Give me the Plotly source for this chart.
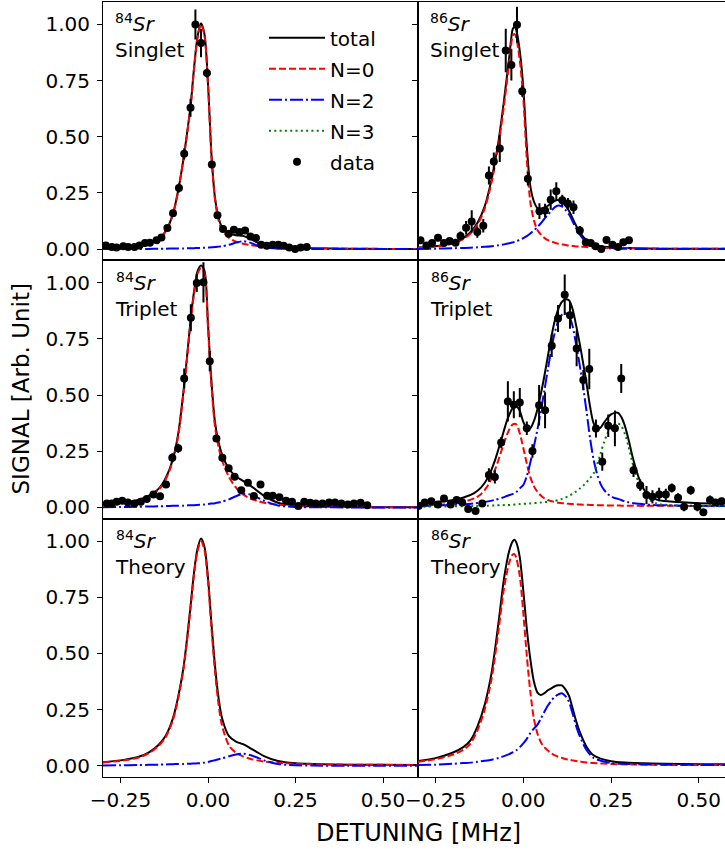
import plotly.graph_objects as go

# ---------------- data ----------------
# model curves, left column panels (84Sr)
GRID_L = [-0.30, -0.25, -0.20, -0.17, -0.14, -0.12, -0.10, -0.085, -0.07, -0.06, -0.05, -0.04, -0.03, -0.02, -0.01,
          0.0, 0.01, 0.02, 0.03, 0.04, 0.06, 0.08, 0.10, 0.12, 0.14, 0.16, 0.20, 0.25, 0.30, 0.40, 0.50, 0.60]
# model curves, right column panels (86Sr singlet / theory)
GRID_R = [-0.30, -0.25, -0.20, -0.17, -0.15, -0.13, -0.11, -0.09, -0.07, -0.055, -0.04, -0.03, -0.025, -0.02, -0.01,
          0.0, 0.01, 0.02, 0.03, 0.04, 0.05, 0.06, 0.07, 0.08, 0.09, 0.10, 0.11, 0.12, 0.13, 0.14, 0.15, 0.16,
          0.18, 0.20, 0.25, 0.30, 0.40, 0.50, 0.60]
# model curves, 86Sr triplet
GRID_D = [-0.30, -0.25, -0.20, -0.17, -0.14, -0.12, -0.10, -0.08, -0.06, -0.045, -0.03, -0.02, -0.01, 0.0, 0.01,
          0.02, 0.03, 0.04, 0.05, 0.06, 0.07, 0.08, 0.09, 0.10, 0.11, 0.12, 0.13, 0.14, 0.15, 0.16, 0.17, 0.18,
          0.19, 0.20, 0.21, 0.22, 0.23, 0.24, 0.25, 0.26, 0.27, 0.28, 0.29, 0.30, 0.31, 0.32, 0.33, 0.35, 0.38,
          0.42, 0.50, 0.60]

# 84Sr Singlet
sr84s_total = [0.006, 0.009, 0.017, 0.027, 0.047, 0.082, 0.158, 0.263, 0.403, 0.514, 0.634, 0.804, 0.945, 1.005, 0.956,
               0.737, 0.418, 0.229, 0.141, 0.098, 0.069, 0.062, 0.059, 0.047, 0.030, 0.018, 0.010, 0.006, 0.004, 0.002, 0.001, 0.001]
sr84s_n0 = [0.006, 0.009, 0.016, 0.026, 0.045, 0.08, 0.155, 0.26, 0.40, 0.51, 0.63, 0.80, 0.94, 1.00, 0.95,
            0.73, 0.41, 0.22, 0.13, 0.085, 0.05, 0.033, 0.024, 0.018, 0.014, 0.011, 0.008, 0.005, 0.004, 0.002, 0.001, 0.001]
sr84s_n2 = [0, 0, 0.001, 0.001, 0.002, 0.002, 0.003, 0.003, 0.003, 0.004, 0.004, 0.004, 0.005, 0.005, 0.006,
            0.007, 0.008, 0.009, 0.011, 0.013, 0.019, 0.029, 0.035, 0.029, 0.016, 0.007, 0.002, 0.001, 0, 0, 0, 0]
sr84s_x = [-0.292, -0.275, -0.261, -0.242, -0.228, -0.210, -0.196, -0.180, -0.166, -0.147,
           -0.133, -0.116, -0.100, -0.083, -0.068, -0.050, -0.036, -0.020, -0.003, 0.011,
           0.027, 0.043, 0.059, 0.074, 0.090, 0.106, 0.121, 0.137, 0.152, 0.168,
           0.185, 0.201, 0.216, 0.232, 0.249, 0.265, 0.282]
sr84s_y = [0.016, 0.009, 0.007, 0.013, 0.009, 0.009, 0.016, 0.027, 0.028, 0.039,
           0.052, 0.094, 0.160, 0.272, 0.424, 0.629, 1.000, 0.917, 0.784, 0.377,
           0.151, 0.089, 0.068, 0.086, 0.076, 0.083, 0.056, 0.049, 0.019, 0.015,
           0.019, 0.019, 0.015, 0.007, 0.000, 0.007, 0.009]
sr84s_err = [0.008, 0.006, 0.006, 0.006, 0.006, 0.006, 0.006, 0.008, 0.008, 0.01,
             0.01, 0.012, 0.015, 0.02, 0.025, 0.04, 0.067, 0.063, 0.02, 0.015,
             0.012, 0.012, 0.01, 0.012, 0.01, 0.012, 0.01, 0.01, 0.008, 0.008,
             0.008, 0.008, 0.008, 0.006, 0.006, 0.006, 0.006]

# 86Sr Singlet
sr86s_total = [0.007, 0.013, 0.029, 0.05, 0.076, 0.118, 0.19, 0.313, 0.487, 0.661, 0.856, 0.98, 0.99, 0.975, 0.881,
               0.719, 0.458, 0.28, 0.213, 0.183, 0.18, 0.185, 0.193, 0.204, 0.215, 0.218, 0.211, 0.193, 0.171, 0.139,
               0.106, 0.077, 0.039, 0.019, 0.008, 0.005, 0.002, 0.002, 0.001]
sr86s_n0 = [0.006, 0.011, 0.025, 0.045, 0.07, 0.11, 0.18, 0.30, 0.47, 0.64, 0.83, 0.95, 0.958, 0.94, 0.84,
            0.67, 0.40, 0.21, 0.13, 0.085, 0.065, 0.05, 0.04, 0.034, 0.028, 0.024, 0.021, 0.018, 0.016, 0.014,
            0.012, 0.011, 0.009, 0.007, 0.005, 0.004, 0.002, 0.002, 0.001]
sr86s_n2 = [0.001, 0.002, 0.004, 0.005, 0.006, 0.008, 0.01, 0.013, 0.017, 0.021, 0.026, 0.03, 0.032, 0.035, 0.041,
            0.049, 0.058, 0.07, 0.083, 0.098, 0.115, 0.135, 0.153, 0.17, 0.187, 0.194, 0.19, 0.175, 0.155, 0.125,
            0.094, 0.066, 0.03, 0.012, 0.003, 0.001, 0, 0, 0]
sr86s_x = [-0.293, -0.276, -0.260, -0.243, -0.226, -0.210, -0.193, -0.179, -0.163, -0.147,
           -0.131, -0.114, -0.098, -0.084, -0.067, -0.050, -0.034, -0.018, -0.003, 0.013,
           0.046, 0.062, 0.078, 0.094, 0.111, 0.127, 0.143, 0.161, 0.178, 0.192,
           0.206, 0.222, 0.237, 0.254, 0.270, 0.285, 0.301]
sr86s_y = [0.039, 0.016, 0.027, 0.050, 0.027, 0.036, 0.028, 0.058, 0.095, 0.123,
           0.076, 0.104, 0.328, 0.390, 0.448, 0.884, 0.820, 0.999, 0.703, 0.313,
           0.169, 0.172, 0.220, 0.258, 0.217, 0.203, 0.186, 0.083, 0.031, 0.027,
           0.013, 0.001, 0.041, 0.019, 0.009, 0.030, 0.039]
sr86s_err = [0.015, 0.012, 0.012, 0.015, 0.012, 0.012, 0.012, 0.02, 0.03, 0.05,
             0.025, 0.03, 0.04, 0.04, 0.06, 0.097, 0.07, 0.08, 0.025, 0.03,
             0.035, 0.03, 0.045, 0.04, 0.025, 0.025, 0.03, 0.02, 0.015, 0.015,
             0.012, 0.012, 0.015, 0.012, 0.012, 0.015, 0.015]

# 84Sr Triplet
sr84t_total = [0.013, 0.02, 0.033, 0.052, 0.085, 0.134, 0.217, 0.328, 0.518, 0.669, 0.83, 0.96, 1.051, 1.077, 1.053,
               0.815, 0.557, 0.379, 0.292, 0.236, 0.171, 0.138, 0.118, 0.098, 0.075, 0.051, 0.021, 0.009, 0.005, 0.002, 0.001, 0.001]
sr84t_n0 = [0.012, 0.018, 0.03, 0.048, 0.08, 0.128, 0.21, 0.32, 0.51, 0.66, 0.82, 0.95, 1.04, 1.065, 1.04,
            0.80, 0.54, 0.36, 0.27, 0.21, 0.135, 0.088, 0.058, 0.04, 0.03, 0.021, 0.012, 0.007, 0.004, 0.002, 0.001, 0.001]
sr84t_n2 = [0.001, 0.002, 0.003, 0.004, 0.005, 0.006, 0.007, 0.008, 0.008, 0.009, 0.01, 0.01, 0.011, 0.012, 0.013,
            0.015, 0.017, 0.019, 0.022, 0.026, 0.036, 0.05, 0.06, 0.058, 0.045, 0.03, 0.009, 0.002, 0.001, 0, 0, 0]
sr84t_x = [-0.289, -0.275, -0.261, -0.245, -0.229, -0.210, -0.192, -0.175, -0.156, -0.137,
           -0.120, -0.102, -0.085, -0.068, -0.049, -0.032, -0.013, 0.005, 0.024, 0.041,
           0.059, 0.076, 0.095, 0.114, 0.131, 0.150, 0.169, 0.185, 0.204, 0.223,
           0.240, 0.258, 0.275, 0.292, 0.308, 0.327, 0.346, 0.363, 0.381, 0.400,
           0.417, 0.436, 0.455]
sr84t_y = [0.018, 0.018, 0.025, 0.030, 0.022, 0.018, 0.025, 0.037, 0.058, 0.050,
           0.102, 0.221, 0.263, 0.574, 0.844, 0.999, 1.002, 0.651, 0.307, 0.221,
           0.174, 0.137, 0.077, 0.110, 0.051, 0.102, 0.052, 0.052, 0.045, 0.030,
           0.025, 0.006, 0.025, 0.021, 0.018, 0.018, 0.022, 0.022, 0.018, 0.013,
           0.018, 0.021, 0.010]
sr84t_err = [0.008, 0.008, 0.008, 0.008, 0.008, 0.008, 0.008, 0.01, 0.01, 0.01,
             0.012, 0.02, 0.02, 0.045, 0.06, 0.04, 0.09, 0.045, 0.015, 0.015,
             0.012, 0.012, 0.01, 0.01, 0.01, 0.01, 0.008, 0.008, 0.008, 0.008,
             0.008, 0.008, 0.008, 0.008, 0.008, 0.008, 0.008, 0.008, 0.008, 0.008,
             0.008, 0.008, 0.008]

# 86Sr Triplet
sr86t_total = [0.016, 0.023, 0.033, 0.044, 0.064, 0.089, 0.135, 0.213, 0.316, 0.393, 0.442, 0.452, 0.43, 0.381, 0.352,
               0.353, 0.384, 0.435, 0.505, 0.585, 0.673, 0.76, 0.833, 0.884, 0.915, 0.927, 0.922, 0.885, 0.814, 0.736,
               0.647, 0.554, 0.451, 0.376, 0.35, 0.355, 0.378, 0.399, 0.414, 0.421, 0.421, 0.4, 0.36, 0.301, 0.233,
               0.176, 0.128, 0.065, 0.035, 0.026, 0.019, 0.017]
sr86t_n0 = [0.007, 0.011, 0.017, 0.025, 0.04, 0.06, 0.1, 0.17, 0.263, 0.33, 0.37, 0.37, 0.33, 0.265, 0.195,
            0.135, 0.095, 0.07, 0.053, 0.041, 0.033, 0.028, 0.024, 0.021, 0.019, 0.018, 0.016, 0.015, 0.014, 0.013,
            0.012, 0.012, 0.011, 0.011, 0.01, 0.01, 0.01, 0.009, 0.009, 0.009, 0.009, 0.008, 0.008, 0.008, 0.008,
            0.008, 0.007, 0.007, 0.007, 0.007, 0.006, 0.006]
sr86t_n2 = [0.006, 0.008, 0.011, 0.014, 0.018, 0.022, 0.027, 0.034, 0.043, 0.052, 0.06, 0.068, 0.085, 0.10, 0.14,
            0.20, 0.27, 0.345, 0.43, 0.52, 0.615, 0.705, 0.78, 0.83, 0.858, 0.865, 0.855, 0.81, 0.73, 0.64,
            0.54, 0.43, 0.31, 0.215, 0.15, 0.105, 0.078, 0.06, 0.05, 0.042, 0.038, 0.032, 0.027, 0.023, 0.02,
            0.018, 0.016, 0.013, 0.01, 0.009, 0.007, 0.006]
sr86t_n3 = [0.003, 0.004, 0.005, 0.005, 0.006, 0.007, 0.008, 0.009, 0.01, 0.011, 0.012, 0.014, 0.015, 0.016, 0.017,
            0.018, 0.019, 0.02, 0.022, 0.024, 0.025, 0.027, 0.029, 0.033, 0.038, 0.044, 0.051, 0.06, 0.07, 0.083,
            0.095, 0.112, 0.13, 0.15, 0.19, 0.24, 0.29, 0.33, 0.355, 0.37, 0.374, 0.36, 0.325, 0.27, 0.205,
            0.15, 0.105, 0.045, 0.018, 0.01, 0.006, 0.005]
sr86t_x = [-0.298, -0.281, -0.262, -0.243, -0.226, -0.207, -0.190, -0.174, -0.157, -0.136,
           -0.117, -0.098, -0.081, -0.063, -0.044, -0.027, -0.010, 0.010, 0.026, 0.045,
           0.062, 0.081, 0.099, 0.118, 0.133, 0.152, 0.171, 0.188, 0.207, 0.225,
           0.242, 0.261, 0.279, 0.314, 0.333, 0.351, 0.368, 0.387, 0.406, 0.423,
           0.441, 0.458, 0.477, 0.496, 0.513, 0.532, 0.548, 0.565]
sr86t_y = [0.007, 0.022, 0.028, 0.013, 0.040, 0.013, 0.033, 0.022, -0.007, -0.016,
           0.018, 0.144, 0.136, 0.289, 0.472, 0.457, 0.467, 0.352, 0.251, 0.455,
           0.433, 0.720, 0.841, 0.947, 0.855, 0.708, 0.567, 0.616, 0.351, 0.203,
           0.364, 0.352, 0.574, 0.166, 0.099, 0.055, 0.047, 0.058, 0.058, 0.087,
           0.043, 0.003, 0.077, 0.003, -0.022, 0.033, 0.022, 0.028]
sr86t_err = [0.015, 0.012, 0.012, 0.012, 0.012, 0.012, 0.012, 0.012, 0.012, 0.012,
             0.015, 0.03, 0.03, 0.025, 0.09, 0.06, 0.065, 0.03, 0.03, 0.09,
             0.08, 0.05, 0.06, 0.09, 0.06, 0.08, 0.045, 0.09, 0.04, 0.04,
             0.05, 0.08, 0.065, 0.03, 0.025, 0.04, 0.03, 0.03, 0.025, 0.02,
             0.02, 0.02, 0.02, 0.02, 0.015, 0.02, 0.015, 0.015]

# 84Sr Theory
sr84th_total = [0.016, 0.024, 0.039, 0.059, 0.095, 0.136, 0.212, 0.308, 0.438, 0.564, 0.709, 0.86, 0.966, 1.012, 0.974,
                0.837, 0.631, 0.445, 0.304, 0.213, 0.132, 0.108, 0.096, 0.079, 0.061, 0.043, 0.021, 0.011, 0.008, 0.005, 0.004, 0.003]
sr84th_n0 = [0.015, 0.022, 0.036, 0.055, 0.09, 0.13, 0.205, 0.3, 0.43, 0.555, 0.70, 0.85, 0.955, 1.0, 0.96,
             0.82, 0.61, 0.42, 0.275, 0.18, 0.09, 0.058, 0.042, 0.031, 0.024, 0.019, 0.013, 0.009, 0.007, 0.005, 0.004, 0.003]
sr84th_n2 = [0.001, 0.002, 0.003, 0.004, 0.005, 0.006, 0.007, 0.008, 0.008, 0.009, 0.009, 0.01, 0.011, 0.012, 0.014,
             0.017, 0.021, 0.025, 0.029, 0.033, 0.042, 0.05, 0.054, 0.048, 0.037, 0.024, 0.008, 0.002, 0.001, 0, 0, 0]

# 86Sr Theory
sr86th_total = [0.021, 0.034, 0.059, 0.084, 0.114, 0.178, 0.272, 0.417, 0.645, 0.833, 0.957, 1.0, 1.006, 0.994, 0.928,
                0.78, 0.61, 0.475, 0.376, 0.327, 0.315, 0.323, 0.336, 0.345, 0.354, 0.358, 0.358, 0.34, 0.312, 0.259,
                0.201, 0.154, 0.085, 0.047, 0.02, 0.014, 0.009, 0.007, 0.006]
sr86th_n0 = [0.018, 0.029, 0.05, 0.072, 0.1, 0.16, 0.25, 0.39, 0.61, 0.79, 0.905, 0.94, 0.942, 0.925, 0.845,
             0.68, 0.49, 0.33, 0.211, 0.145, 0.105, 0.083, 0.068, 0.055, 0.046, 0.04, 0.035, 0.03, 0.027, 0.024,
             0.021, 0.019, 0.015, 0.012, 0.008, 0.006, 0.004, 0.003, 0.003]
sr86th_n2 = [0.003, 0.005, 0.009, 0.012, 0.014, 0.018, 0.022, 0.027, 0.035, 0.043, 0.052, 0.06, 0.064, 0.069, 0.083,
             0.1, 0.12, 0.145, 0.165, 0.182, 0.21, 0.24, 0.268, 0.29, 0.308, 0.318, 0.323, 0.31, 0.285, 0.235,
             0.18, 0.135, 0.07, 0.035, 0.012, 0.008, 0.005, 0.004, 0.003]

X_TICKS = [-0.25, 0.0, 0.25, 0.50]
X_TICK_LABELS = ["\u22120.25", "0.00", "0.25", "0.50"]
Y_TICKS = [0.0, 0.25, 0.50, 0.75, 1.00]
Y_TICK_LABELS = ["0.00", "0.25", "0.50", "0.75", "1.00"]

PANEL_LABELS = ["<sup>84</sup><i>Sr</i><br>Singlet", "<sup>86</sup><i>Sr</i><br>Singlet",
                "<sup>84</sup><i>Sr</i><br>Triplet", "<sup>86</sup><i>Sr</i><br>Triplet",
                "<sup>84</sup><i>Sr</i><br>Theory", "<sup>86</sup><i>Sr</i><br>Theory"]

# ---------------- figure ----------------
FONT = "DejaVu Sans"
W, H = 725, 854
ML, MT, MB = 103, 2, 77
PW = W - ML
SPLIT = 315 / PW
XD = [[0, SPLIT], [SPLIT, 1]]
YD = [[2 / 3, 1], [1 / 3, 2 / 3], [0, 1 / 3]]
XR = [[-0.30, 0.60], [-0.30, -0.30 + (PW - 315) / 351.0]]
YR = [-0.05, 1.10]

STY = {
    "total": dict(color="black", width=2, dash="solid"),
    "N=0": dict(color="red", width=2, dash="7px,3px"),
    "N=2": dict(color="blue", width=2, dash="13px,3px,2px,3px"),
    "N=3": dict(color="green", width=2, dash="2px,3.3px"),
}
RANK = {"total": 1, "N=0": 2, "N=2": 3, "N=3": 4, "data": 5}

panels = [
    (GRID_L, [("total", sr84s_total), ("N=0", sr84s_n0), ("N=2", sr84s_n2)], (sr84s_x, sr84s_y, sr84s_err)),
    (GRID_R, [("total", sr86s_total), ("N=0", sr86s_n0), ("N=2", sr86s_n2)], (sr86s_x, sr86s_y, sr86s_err)),
    (GRID_L, [("total", sr84t_total), ("N=0", sr84t_n0), ("N=2", sr84t_n2)], (sr84t_x, sr84t_y, sr84t_err)),
    (GRID_D, [("total", sr86t_total), ("N=0", sr86t_n0), ("N=2", sr86t_n2), ("N=3", sr86t_n3)],
     (sr86t_x, sr86t_y, sr86t_err)),
    (GRID_L, [("total", sr84th_total), ("N=0", sr84th_n0), ("N=2", sr84th_n2)], None),
    (GRID_R, [("total", sr86th_total), ("N=0", sr86th_n0), ("N=2", sr86th_n2)], None),
]

fig = go.Figure()
shown = set()
for k, (grid, curves, data) in enumerate(panels, start=1):
    xa = "x" if k == 1 else f"x{k}"
    ya = "y" if k == 1 else f"y{k}"
    for name, vals in curves:
        show = name not in shown
        shown.add(name)
        fig.add_trace(go.Scatter(
            x=grid, y=vals, mode="lines", name=name, xaxis=xa, yaxis=ya,
            line=dict(shape="spline", smoothing=0.8, **STY[name]),
            showlegend=show, legendgroup=name, legendrank=RANK[name], hoverinfo="skip"))
    if data is not None:
        dx, dy, de = data
        show = "data" not in shown
        shown.add("data")
        fig.add_trace(go.Scatter(
            x=dx, y=dy, mode="markers", name="data", xaxis=xa, yaxis=ya,
            marker=dict(color="black", size=8),
            error_y=dict(type="data", array=de, visible=True, color="black", thickness=2, width=0),
            showlegend=show, legendgroup="data", legendrank=RANK["data"], hoverinfo="skip"))

layout = dict(
    width=W, height=H,
    margin=dict(l=ML, r=0, t=MT, b=MB, pad=0),
    paper_bgcolor="white", plot_bgcolor="white",
    font=dict(family=FONT, size=20, color="black"),
    showlegend=True,
    legend=dict(x=(264 - ML) / PW, y=0.979, xanchor="left", yanchor="top",
                bgcolor="rgba(0,0,0,0)", borderwidth=0, font=dict(family=FONT, size=20),
                tracegroupgap=2, traceorder="grouped", itemwidth=56),
)
annotations = []
for k in range(1, 7):
    row, col = (k - 1) // 2, (k - 1) % 2
    xk = "xaxis" if k == 1 else f"xaxis{k}"
    yk = "yaxis" if k == 1 else f"yaxis{k}"
    layout[xk] = dict(
        domain=XD[col], anchor="y" if k == 1 else f"y{k}", range=XR[col],
        tickmode="array", tickvals=X_TICKS, ticktext=X_TICK_LABELS,
        showticklabels=(row == 2), ticks="outside" if row == 2 else "", ticklen=5, tickwidth=1,
        tickcolor="black", showline=True, linecolor="black", linewidth=1, mirror=True,
        showgrid=False, zeroline=False, tickfont=dict(size=20, family=FONT))
    layout[yk] = dict(
        domain=YD[row], anchor="x" if k == 1 else f"x{k}", range=YR,
        tickmode="array", tickvals=Y_TICKS, ticktext=Y_TICK_LABELS,
        showticklabels=(col == 0), ticks="outside", ticklen=5, tickwidth=1, tickcolor="black",
        showline=True, linecolor="black", linewidth=1, mirror=(col == 0),
        showgrid=False, zeroline=False, tickfont=dict(size=20, family=FONT), ticklabelstandoff=3)
    xref = "x domain" if k == 1 else f"x{k} domain"
    yref = "y domain" if k == 1 else f"y{k} domain"
    annotations.append(dict(
        text=PANEL_LABELS[k - 1], xref=xref, yref=yref,
        x=(10 / 315) if col == 0 else (10 / (PW - 315)), y=0.975,
        xanchor="left", yanchor="top", align="left", showarrow=False,
        font=dict(family=FONT, size=20, color="black")))

annotations.append(dict(text="SIGNAL [Arb. Unit]", xref="paper", yref="paper",
                        x=(20 - ML) / PW, y=0.5, textangle=-90, showarrow=False,
                        xanchor="center", yanchor="middle", font=dict(family=FONT, size=23)))
annotations.append(dict(text="DETUNING [MHz]", xref="paper", yref="paper",
                        x=(418 - ML) / PW, y=(777 - 833) / (H - MT - MB), showarrow=False,
                        xanchor="center", yanchor="middle", font=dict(family=FONT, size=24)))
layout["annotations"] = annotations
fig.update_layout(**layout)

fig.write_html("out.html", config={"displayModeBar": False},
               post_script="document.body.style.margin='0';document.body.style.overflow='hidden';")
